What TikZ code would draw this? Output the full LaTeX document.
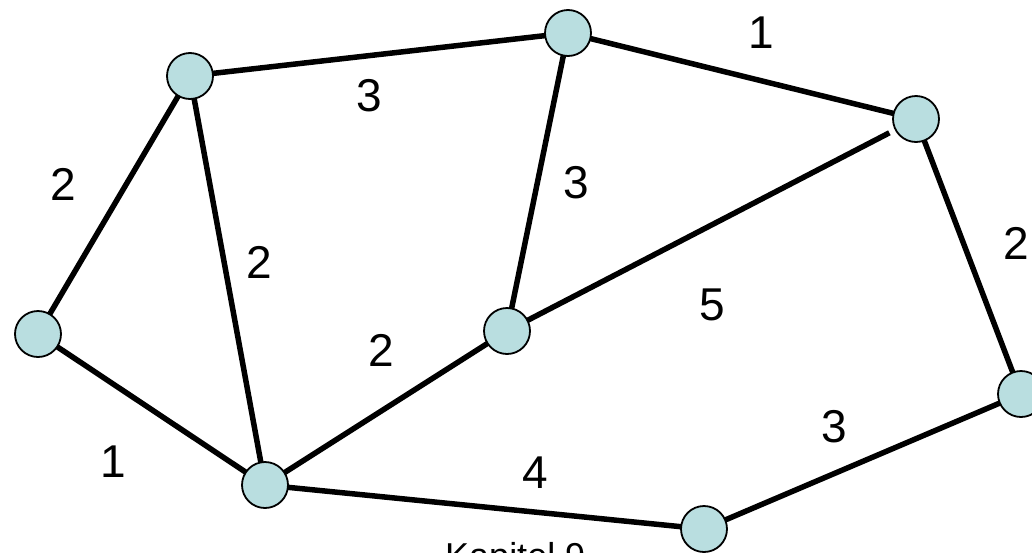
\documentclass[tikz,border=0pt]{standalone}
\usepackage{fontspec}
\setmainfont{Liberation Sans}
\definecolor{nodefill}{RGB}{185,222,224}
\begin{document}
\begin{tikzpicture}[x=1pt,y=-1pt,
  vertex/.style={circle,draw=black,line width=1.8pt,fill=nodefill,minimum size=46pt,inner sep=0pt},
  edge/.style={line width=5.5pt},
  wlabel/.style={font=\fontsize{46}{54}\selectfont,inner sep=0pt}]
\useasboundingbox (0,0) rectangle (1032,552);
\clip (0,0) rectangle (1032,552);
\node[wlabel,anchor=base west] (kap) at (445,568) {\fontsize{36}{42}\selectfont Kapitel 9};
% node coordinates
\coordinate (pA) at (190,76);
\coordinate (pB) at (568,33);
\coordinate (pC) at (916,119);
\coordinate (pD) at (38,334);
\coordinate (pE) at (507,331);
\coordinate (pF) at (265,485);
\coordinate (pG) at (1021,394);
\coordinate (pH) at (704,529);
% edges
\draw[edge] (pA) -- (pB);
\draw[edge] (pB) -- (pC);
\draw[edge] (pA) -- (pD);
\draw[edge] (pA) -- (pF);
\draw[edge] (pD) -- (pF);
\draw[edge] (pB) -- (pE);
\draw[edge,shorten >=30pt] (pE) -- (pC);
\draw[edge] (pE) -- (pF);
\draw[edge] (pF) -- (pH);
\draw[edge] (pH) -- (pG);
\draw[edge] (pC) -- (pG);
% vertices
\node[vertex] (A) at (pA) {};
\node[vertex] (B) at (pB) {};
\node[vertex] (C) at (pC) {};
\node[vertex] (D) at (pD) {};
\node[vertex] (E) at (pE) {};
\node[vertex] (F) at (pF) {};
\node[vertex] (G) at (pG) {};
\node[vertex] (H) at (pH) {};
% weights
\node[wlabel] (w1) at (63,184) {2};
\node[wlabel] (w2) at (369,96) {3};
\node[wlabel] (w3) at (761,33) {1};
\node[wlabel] (w4) at (576,183) {3};
\node[wlabel] (w5) at (259,262) {2};
\node[wlabel] (w6) at (1016,243) {2};
\node[wlabel] (w7) at (712,305) {5};
\node[wlabel] (w8) at (381,350) {2};
\node[wlabel] (w9) at (113,462) {1};
\node[wlabel] (w10) at (535,473) {4};
\node[wlabel] (w11) at (834,427) {3};
\end{tikzpicture}
\end{document}
